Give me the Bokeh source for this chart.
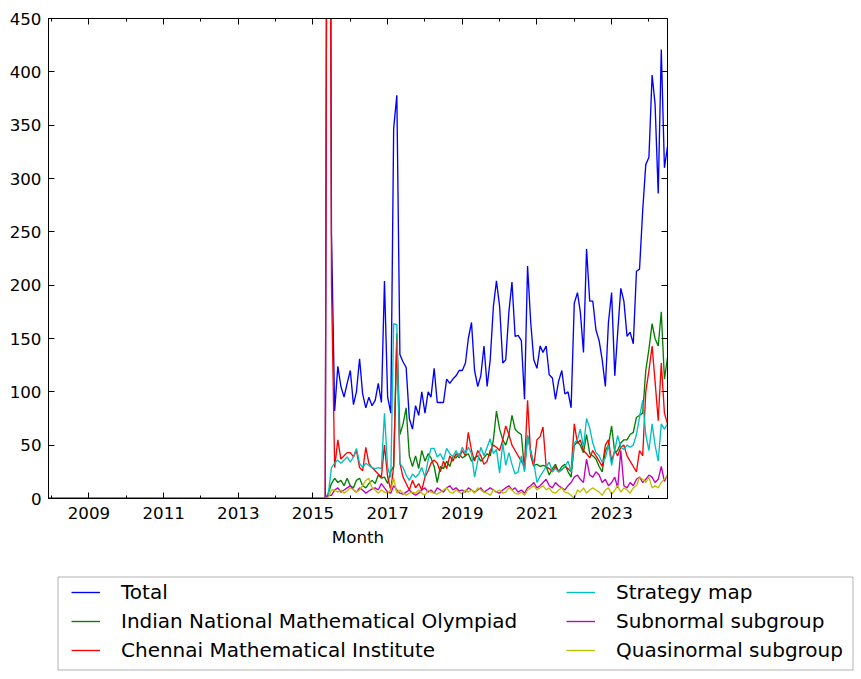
import pandas as pd
from bokeh.plotting import figure
from bokeh.models import (Legend, LegendItem, LinearAxis, FixedTicker, Range1d,
                          BoxAnnotation, ColumnDataSource)
from bokeh.embed import file_html
from bokeh.resources import INLINE

# ---------------- data ----------------
first_month = "2007-12-01"      # first month on the axis
active_from = "2015-06-01"      # first month with non-zero counts
last_month = "2024-07-01"

total = [1200, 249, 82, 124, 105, 95, 108, 120, 88, 100, 131, 98, 85, 95, 87, 92, 108, 90, 204, 95,
         80, 347, 378, 135, 128, 123, 75, 65, 87, 78, 100, 80, 100, 95, 122, 90, 90, 90, 112, 108,
         112, 115, 120, 120, 127, 150, 165, 120, 105, 115, 143, 105, 130, 180, 204, 180, 127, 130, 175, 203,
         152, 153, 148, 93, 218, 165, 130, 122, 143, 137, 143, 116, 113, 93, 110, 120, 98, 100, 85, 183,
         193, 175, 137, 234, 185, 185, 158, 148, 130, 105, 165, 193, 115, 155, 197, 185, 152, 156, 145, 213,
         215, 270, 313, 320, 397, 370, 286, 421, 310, 330]
inmo = [5, 14, 19, 15, 17, 12, 19, 12, 10, 17, 19, 12, 10, 14, 17, 14, 22, 19, 20, 14,
        26, 30, 155, 60, 70, 85, 40, 30, 40, 28, 45, 35, 42, 38, 30, 15, 30, 28, 35, 30,
        40, 38, 42, 38, 40, 42, 35, 38, 40, 35, 38, 42, 40, 55, 82, 65, 55, 50, 60, 78,
        65, 62, 60, 27, 59, 45, 31, 32, 30, 31, 30, 22, 28, 32, 25, 30, 32, 25, 20, 50,
        53, 50, 43, 60, 42, 40, 37, 30, 25, 45, 50, 68, 43, 45, 52, 55, 55, 60, 62, 76,
        78, 80, 120, 140, 164, 150, 143, 175, 112, 132]
chennai = [1200, 200, 29, 55, 37, 40, 43, 43, 39, 45, 29, 26, 48, 33, 29, 26, 23, 20, 50, 20,
           8, 30, 150, 33, 20, 14, 8, 17, 10, 14, 8, 20, 26, 33, 36, 33, 25, 35, 28, 40,
           35, 42, 38, 45, 40, 62, 45, 35, 45, 40, 32, 35, 45, 50, 48, 45, 55, 68, 60, 50,
           45, 40, 35, 30, 92, 40, 30, 55, 58, 67, 30, 28, 25, 30, 25, 27, 30, 28, 25, 70,
           52, 55, 45, 42, 38, 45, 40, 35, 30, 50, 55, 35, 45, 40, 48, 50, 40, 35, 30, 25,
           45, 40, 100, 120, 143, 110, 73, 127, 80, 70]
strategy = [5, 29, 33, 36, 33, 36, 39, 34, 39, 47, 33, 29, 33, 31, 29, 28, 29, 28, 80, 29,
            20, 164, 163, 33, 29, 22, 17, 23, 20, 23, 29, 20, 36, 47, 47, 39, 42, 36, 47, 42,
            39, 45, 39, 48, 42, 48, 42, 20, 35, 48, 40, 48, 56, 42, 46, 24, 52, 31, 43, 32,
            23, 25, 40, 25, 59, 43, 34, 15, 21, 25, 30, 34, 25, 28, 25, 27, 30, 35, 25, 52,
            55, 65, 48, 75, 66, 52, 43, 40, 34, 38, 50, 31, 45, 59, 48, 46, 50, 48, 50, 60,
            76, 92, 60, 45, 70, 50, 35, 70, 65, 70]
subnormal = [3, 3, 8, 10, 6, 8, 10, 12, 8, 6, 10, 8, 5, 7, 9, 10, 8, 14, 10, 6,
             5, 12, 8, 5, 4, 6, 8, 5, 3, 5, 8, 10, 6, 8, 5, 10, 8, 6, 10, 12,
             8, 10, 7, 8, 6, 10, 8, 6, 8, 10, 6, 8, 10, 8, 6, 5, 8, 10, 12, 8,
             10, 6, 8, 5, 10, 12, 15, 10, 12, 15, 18, 12, 10, 15, 12, 10, 8, 12, 15, 20,
             22, 18, 15, 37, 22, 20, 25, 22, 15, 18, 12, 15, 20, 10, 45, 12, 10, 15, 12, 18,
             20, 15, 18, 22, 20, 15, 18, 30, 16, 22]
quasinormal = [1, 8, 8, 6, 8, 5, 7, 10, 8, 6, 8, 12, 17, 19, 10, 8, 5, 8, 6, 5,
               8, 19, 5, 8, 5, 3, 5, 6, 5, 8, 5, 3, 8, 6, 5, 4, 6, 8, 10, 6,
               5, 8, 6, 4, 8, 6, 8, 5, 10, 8, 6, 5, 3, 8, 6, 8, 5, 6, 10, 8,
               5, 4, 6, 3, 8, 10, 12, 8, 10, 12, 8, 10, 6, 5, 8, 10, 6, 5, 3, 0,
               8, 6, 10, 5, 8, 10, 8, 6, 3, 8, 10, 4, 8, 12, 6, 10, 8, 5, 10, 12,
               20, 18, 15, 20, 10, 12, 10, 15, 18, 22]

series_names = ["Total", "Indian National Mathematical Olympiad", "Chennai Mathematical Institute",
                "Strategy map", "Subnormal subgroup", "Quasinormal subgroup"]
series_values = [total, inmo, chennai, strategy, subnormal, quasinormal]
series_colors = ["#0000ff", "#008000", "#ff0000", "#00bfbf", "#bf00bf", "#bfbf00"]

major_years = [2009, 2011, 2013, 2015, 2017, 2019, 2021, 2023]
minor_years = [2008, 2010, 2012, 2014, 2016, 2018, 2020, 2022, 2024]
y_ticks = [0, 50, 100, 150, 200, 250, 300, 350, 400, 450]

# ---------------- build ----------------
months = pd.date_range(first_month, last_month, freq="MS")
n_zero = len(pd.date_range(first_month, active_from, freq="MS")) - 1


def dec_year(d):
    a = pd.Timestamp(year=d.year, month=1, day=1)
    b = pd.Timestamp(year=d.year + 1, month=1, day=1)
    return d.year + (d - a) / (b - a)


xs = [dec_year(d) for d in months]

FONT = "DejaVu Sans"
TICK_SIZE = "16.7px"
LW = 1.35
W = 861

p = figure(width=W, height=560, output_backend="svg", toolbar_location=None,
           x_range=Range1d(xs[0], xs[-1]), y_range=Range1d(0, 450),
           min_border_left=48, min_border_right=W - 48 - 619, min_border_top=18,
           min_border_bottom=560 - 18 - 480,
           x_axis_location=None, y_axis_location=None)
p.background_fill_color = "white"
p.border_fill_color = "white"
p.outline_line_color = "black"
p.outline_line_width = 1
p.xgrid.visible = False
p.ygrid.visible = False

for name, vals, col in zip(series_names, series_values, series_colors):
    ys = [0] * n_zero + list(vals)
    src = ColumnDataSource(dict(x=xs, y=ys))
    p.line("x", "y", source=src, line_color=col, line_width=LW)


def style_axis(ax, show_labels):
    ax.axis_line_color = "black"
    ax.major_tick_line_color = "black"
    ax.minor_tick_line_color = "black"
    ax.major_tick_in = 6
    ax.major_tick_out = 0
    ax.minor_tick_in = 3
    ax.minor_tick_out = 0
    ax.major_label_text_font = FONT
    if show_labels:
        ax.major_label_text_font_size = TICK_SIZE
        ax.major_label_text_color = "black"
    else:
        ax.major_label_text_font_size = "1px"
        ax.major_label_text_color = None
        ax.major_label_standoff = 0


xb = LinearAxis(ticker=FixedTicker(ticks=major_years, minor_ticks=minor_years))
style_axis(xb, True)
xb.major_label_standoff = 8
xb.axis_label = "Month"
xb.axis_label_text_font = FONT
xb.axis_label_text_font_size = TICK_SIZE
xb.axis_label_text_font_style = "normal"
xb.axis_label_text_color = "black"
xb.axis_label_standoff = 5
p.add_layout(xb, "below")

xt = LinearAxis(ticker=FixedTicker(ticks=major_years, minor_ticks=minor_years))
style_axis(xt, False)
p.add_layout(xt, "above")

yl = LinearAxis(ticker=FixedTicker(ticks=y_ticks, minor_ticks=[]))
style_axis(yl, True)
yl.major_label_standoff = 7
p.add_layout(yl, "left")

yr = LinearAxis(ticker=FixedTicker(ticks=y_ticks, minor_ticks=[]))
style_axis(yr, False)
p.add_layout(yr, "right")

# ---------------- legend panel (separate root, full-width frame) ----------------
H2 = 119
q = figure(width=W, height=H2, output_backend="svg", toolbar_location=None,
           x_range=Range1d(0, 1), y_range=Range1d(0, 1),
           min_border_left=0, min_border_right=0, min_border_top=0, min_border_bottom=0,
           x_axis_location=None, y_axis_location=None)
q.xgrid.visible = False
q.ygrid.visible = False
q.outline_line_color = None
q.background_fill_color = "white"
q.border_fill_color = "white"

proxies = []
for col in series_colors:
    proxies.append(q.line(x=[-10, -9], y=[-10, -10], line_color=col, line_width=LW))

box = BoxAnnotation(left=57.5, right=852.5, top=H2 - 16.5, bottom=H2 - 109.5,
                    left_units="screen", right_units="screen", top_units="screen", bottom_units="screen",
                    fill_color="white", fill_alpha=1.0, line_color="black", line_width=1)
q.add_layout(box)


def make_legend(idx, loc):
    return Legend(items=[LegendItem(label=series_names[i], renderers=[proxies[i]]) for i in idx],
                  location=loc, orientation="vertical", padding=0, margin=0, spacing=5,
                  glyph_width=29, glyph_height=24, label_standoff=21, label_height=24,
                  border_line_color=None, background_fill_alpha=0,
                  label_text_font=FONT, label_text_font_size="20px", label_text_color="black")


q.add_layout(make_legend([0, 1, 2], (71, 17)))
q.add_layout(make_legend([3, 4, 5], (566, 17)))

open("out.html", "w").write(file_html([p, q], INLINE))
